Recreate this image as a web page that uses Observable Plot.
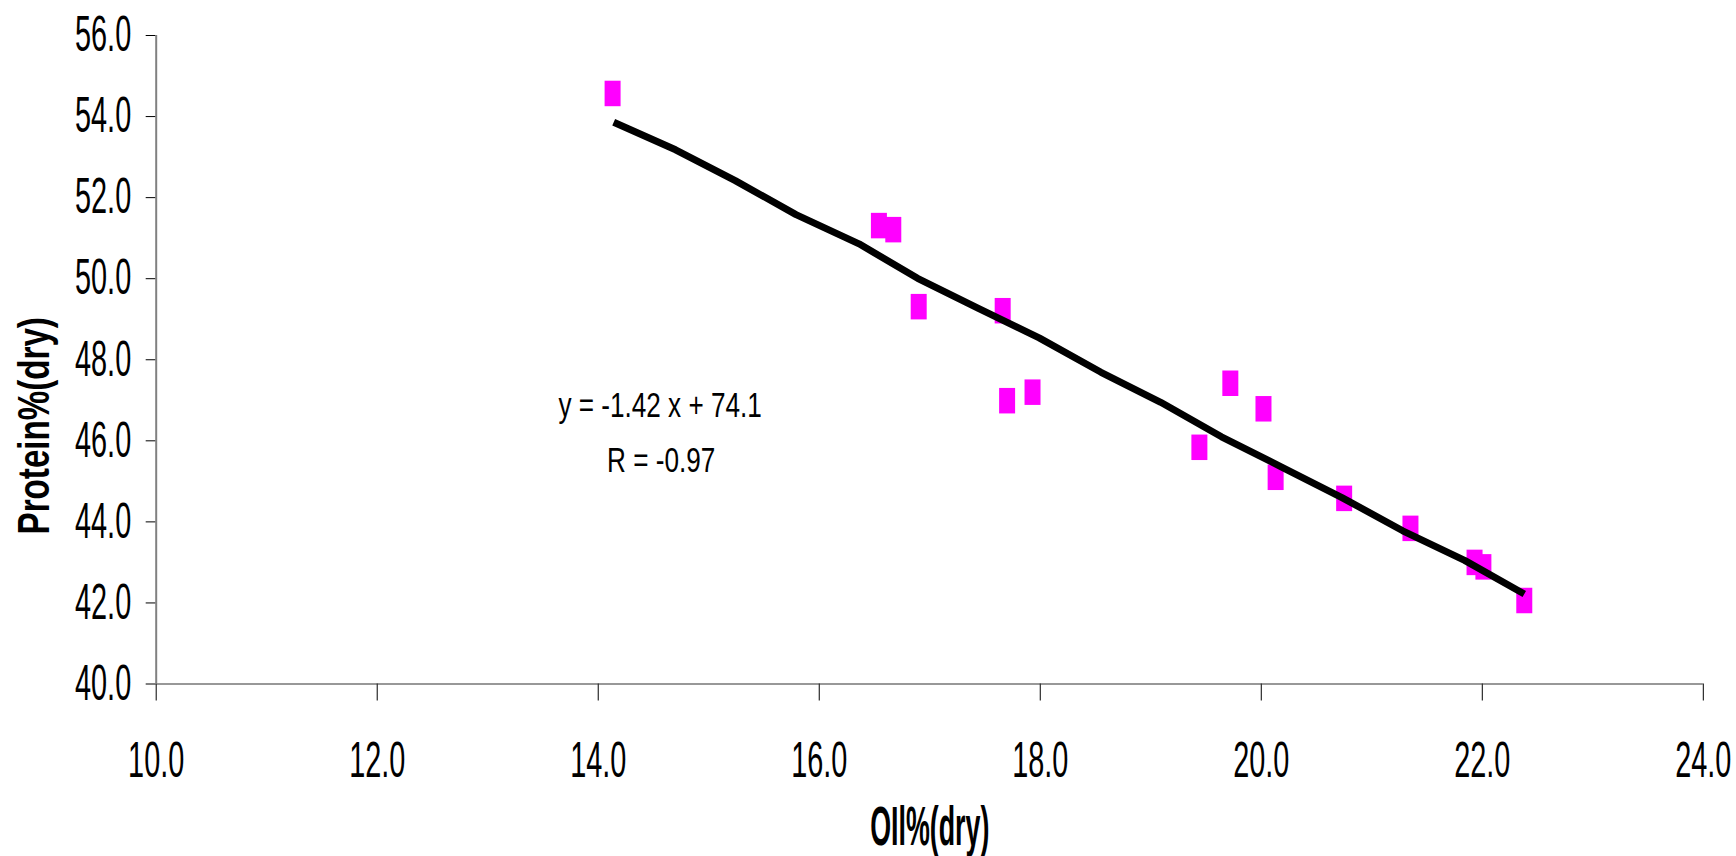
<!DOCTYPE html>
<html>
<head>
<meta charset="utf-8">
<script src="https://cdn.jsdelivr.net/npm/d3@7"></script>
<script src="https://cdn.jsdelivr.net/npm/@observablehq/plot@0.6"></script>
<style>
  html, body { margin: 0; padding: 0; background: #fff; overflow: hidden; }
  #chart svg { display: block; }
</style>
</head>
<body>
<div id="chart"></div>
<script>
// Observed samples
const oil = [14.13, 16.54, 16.67, 16.90, 17.66, 17.70, 17.93, 19.44, 19.72, 20.02, 20.13, 20.75, 21.35, 21.93, 22.01, 22.38];
const protein = [54.57, 51.31, 51.21, 49.31, 49.21, 46.99, 47.20, 45.84, 47.42, 46.79, 45.10, 44.58, 43.84, 43.00, 42.89, 42.06];

// Fitted trend line vertices
const fitOil = [14.14, 14.70, 15.24, 15.79, 16.36, 16.89, 17.44, 17.99, 18.55, 19.09, 19.64, 20.18, 20.73, 21.28, 21.84, 22.38];
const fitProtein = [53.86, 53.18, 52.42, 51.58, 50.86, 50.01, 49.27, 48.54, 47.69, 46.95, 46.10, 45.36, 44.60, 43.78, 43.05, 42.22];

// Axes
const xTicks = [10, 12, 14, 16, 18, 20, 22, 24];
const yTicks = [40, 42, 44, 46, 48, 50, 52, 54, 56];
const xTitle = "OIl%(dry)";
const yTitle = "Protein%(dry)";
const equationLines = ["y = -1.42 x + 74.1", "R = -0.97"];

const points = oil.map((x, i) => ({oil: x, protein: protein[i]}));
const fit = fitOil.map((x, i) => ({oil: x, protein: fitProtein[i]}));
const equation = [
  {text: equationLines[0], oil: 14.56, protein: 46.58},
  {text: equationLines[1], oil: 14.57, protein: 45.23}
];

const tallSquare = { draw(context) { context.rect(-8, -12.75, 16, 25.5); } };
const fmt = d => d.toFixed(1);
const FONT = "'Liberation Sans', Arial, sans-serif";

// text fitting: glyph height and ink width wanted for each kind of text
const ctx = document.createElement("canvas").getContext("2d");
function fitText(weight, sampleH, sampleW, targetH, targetW) {
  ctx.font = `${weight} 100px ${FONT}`;
  const mh = ctx.measureText(sampleH);
  const h = (mh.actualBoundingBoxAscent + mh.actualBoundingBoxDescent) / 100;
  const size = targetH / h;
  const mw = ctx.measureText(sampleW);
  const w = (mw.actualBoundingBoxLeft + mw.actualBoundingBoxRight) / 100 * size;
  return {size, sx: targetW / w};
}
const fTick = fitText("normal", "56.0", "56.0", 35, 54);
const fEq = fitText("normal", "R = -0.97", "R = -0.97", 25, 105);
const fXT = fitText("bold", "OIl", xTitle, 41, 117);
const fYT = fitText("bold", "P", yTitle, 31.7, 214);

const chart = Plot.plot({
  width: 1736,
  height: 856,
  marginLeft: 155.7,
  marginRight: 33.2,
  marginTop: 35,
  marginBottom: 172.5,
  style: {fontFamily: FONT, background: "#fff", color: "#000"},
  x: {domain: [10, 24]},
  y: {domain: [40, 56]},
  marks: [
    Plot.axisY(yTicks, {tickSize: 10, tickPadding: 15, tickFormat: fmt, fontSize: fTick.size, label: null}),
    Plot.axisX(xTicks, {tickSize: 17, tickPadding: 41, tickFormat: fmt, fontSize: fTick.size, label: null}),
    Plot.ruleY([40], {x1: 10, x2: 24, stroke: "#333", strokeWidth: 1.2}),
    Plot.ruleX([10], {y1: 40, y2: 56, stroke: "#808080", strokeWidth: 2}),
    Plot.dot(points, {x: "oil", y: "protein", symbol: tallSquare, fill: "#FF00FF", stroke: "none", r: 5}),
    Plot.line(fit, {x: "oil", y: "protein", stroke: "#000", strokeWidth: 7, strokeLinecap: "butt", strokeLinejoin: "round"}),
    Plot.text(equation, {x: "oil", y: "protein", text: "text", lineAnchor: "bottom", textAnchor: "middle", fontSize: fEq.size, fill: "#000"}),
    Plot.text([xTitle], {text: d => d, frameAnchor: "bottom", textAnchor: "middle", lineAnchor: "bottom", dy: 161, fontSize: fXT.size, fontWeight: "bold", fill: "#000"}),
    Plot.text([yTitle], {text: d => d, frameAnchor: "left", textAnchor: "middle", rotate: -90, lineAnchor: "bottom", dx: -107.4, dy: 66, fontSize: fYT.size, fontWeight: "bold", fill: "#000"})
  ]
});

const tickSet = new Set([...xTicks, ...yTicks].map(fmt));
chart.querySelectorAll("text").forEach(t => {
  const s = t.textContent.trim();
  let f = null, weight = "normal";
  if (tickSet.has(s)) f = fTick;
  else if (equationLines.includes(s)) f = fEq;
  else if (s === xTitle) { f = fXT; weight = "bold"; }
  else if (s === yTitle) { f = fYT; weight = "bold"; }
  if (!f) return;
  t.style.fontSize = f.size + "px";
  t.style.fontFamily = FONT;
  t.style.fontWeight = weight;
  const tr = t.getAttribute("transform") || "";
  t.setAttribute("transform", `${tr} scale(${f.sx},1)`);
});

document.getElementById("chart").appendChild(chart);
</script>
</body>
</html>
